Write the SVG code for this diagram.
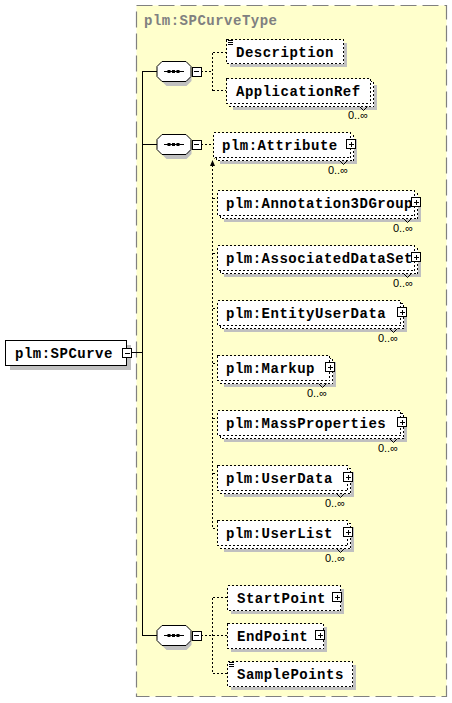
<svg xmlns="http://www.w3.org/2000/svg" xmlns:xlink="http://www.w3.org/1999/xlink" width="452" height="703" viewBox="0 0 452 703">
<style>
.t{font-family:"Liberation Mono",monospace;font-weight:bold;font-size:14px;letter-spacing:0.5px;fill:#000}
.title{font-family:"Liberation Mono",monospace;font-weight:bold;font-size:14px;letter-spacing:0.5px;fill:#808080}
.m{font-family:"Liberation Sans",sans-serif;font-size:11px;fill:#000;text-anchor:end}
.sh{fill:#c0c0c0}
.opt{fill:#fff;stroke:#000;stroke-width:1;stroke-dasharray:2 2;shape-rendering:crispEdges}
.req{fill:#fff;stroke:#000;stroke-width:1;shape-rendering:crispEdges}
.ln{fill:none;stroke:#000;stroke-width:1;shape-rendering:crispEdges}
.dl{fill:none;stroke:#000;stroke-width:1;stroke-dasharray:2 2;shape-rendering:crispEdges}
.v{fill:none;stroke:#000;stroke-width:1}
</style>
<defs>
<g id="plus"><rect x="0.5" y="0.5" width="9" height="9" class="req"/><path d="M2.5 5H7.5M5 2.5V7.5" class="ln"/></g>
<g id="minus"><rect x="0.5" y="0.5" width="9" height="9" class="req"/><path d="M2.5 5H7.5" class="ln"/></g>
<g id="doc"><path d="M0 0.5H5M0 2.5H5M0 4.5H5" class="ln"/></g>
<g id="seq">
<path d="M10 -6H30L35 -1V9L30 14H10L5 9V-1Z" class="sh"/>
<path d="M5.5 -10.5H29.5L34.5 -5.5V4.5L29.5 9.5H5.5L0.5 4.5V-5.5Z" fill="#fff" stroke="#000"/>
<path d="M7 -0.5H27" class="ln"/>
<rect x="11" y="-2" width="3" height="3"/><rect x="15.5" y="-2" width="3" height="3"/><rect x="20" y="-2" width="3" height="3"/>
</g>
</defs>

<g id="type-box">
<rect x="136.5" y="5.5" width="310" height="691" fill="#ffffcc" stroke="#808080" stroke-width="1.2" stroke-dasharray="16 6"/>
<text class="title" x="144" y="25">plm:SPCurveType</text>
</g>

<g id="connectors">
<path d="M131 352.5H143" class="ln"/>
<path d="M142.5 71V636" class="ln"/>
<path d="M142.5 71.5H157M142.5 144.5H157M142.5 635.5H157" class="ln"/>
<path d="M201 71.5H212.5M212.5 52.5V90.5M212.5 52.5H226M212.5 90.5H226" class="dl"/>
<path d="M201 144.5H213" class="dl"/>
<path d="M212.5 165V528.5H217M212.5 198.5H217M212.5 253.5H217M212.5 308.5H217M212.5 363.5H217M212.5 418.5H217M212.5 473.5H217" class="dl"/>
<path d="M212.5 160L210 166H215Z" fill="#000"/>
<path d="M214.5 158.5L218.5 154.5" class="v"/>
<path d="M219.5 153.5L215.5 154.5L218.5 157.5Z" fill="#000"/>
<path d="M201 635.5H212.5M212.5 597.5V673.5M212.5 597.5H227M212.5 635.5H227M212.5 673.5H227" class="dl"/>
</g>

<g id="n-spcurve">
<rect x="10" y="345" width="121" height="25" class="sh"/>
<rect x="5.5" y="340.5" width="121" height="25" class="req"/>
<text class="t" x="15" y="357.5">plm:SPCurve</text>
<use xlink:href="#minus" x="122" y="348"/>
</g>

<g id="seq1"><use xlink:href="#seq" x="156.5" y="72"/><use xlink:href="#minus" x="191.5" y="66.5"/></g>
<g id="seq2"><use xlink:href="#seq" x="156.5" y="145"/><use xlink:href="#minus" x="191.5" y="139.5"/></g>
<g id="seq3"><use xlink:href="#seq" x="156.5" y="636"/><use xlink:href="#minus" x="191.5" y="630.5"/></g>

<g id="n-description">
<rect x="230" y="43" width="117" height="24" class="sh"/>
<rect x="226.5" y="39.5" width="117" height="24" class="opt"/>
<use xlink:href="#doc" x="228" y="40"/>
<text class="t" x="236" y="56.5">Description</text>
</g>

<g id="n-applicationref">
<rect x="233" y="85" width="144" height="25" class="sh"/>
<rect x="229.5" y="81.5" width="144" height="25" class="opt"/>
<rect x="226.5" y="78.5" width="144" height="25" class="opt"/>
<text class="t" x="236" y="95.5">ApplicationRef</text>
<path d="M359.5 106.5L363.5 110.5L367.5 106.5" class="v"/>
<text class="m" x="368" y="119">0..∞</text>
</g>

<g id="n-attribute">
<rect x="220" y="139" width="137" height="25" class="sh"/>
<rect x="216.5" y="135.5" width="137" height="25" class="opt"/>
<rect x="213.5" y="132.5" width="137" height="25" class="opt"/>
<text class="t" x="222" y="149.5">plm:Attribute</text>
<use xlink:href="#plus" x="346" y="139"/>
<path d="M339.5 160.5L343.5 164.5L347.5 160.5" class="v"/>
<text class="m" x="348" y="174">0..∞</text>
</g>

<g id="n-annotation3dgroup">
<rect x="224" y="197" width="197" height="25" class="sh"/>
<rect x="220.5" y="193.5" width="197" height="25" class="opt"/>
<rect x="217.5" y="190.5" width="197" height="25" class="opt"/>
<text class="t" x="226" y="207.5">plm:Annotation3DGroup</text>
<use xlink:href="#plus" x="411" y="197"/>
<path d="M403.5 218.5L407.5 222.5L411.5 218.5" class="v"/>
<text class="m" x="413" y="232">0..∞</text>
</g>

<g id="n-associateddataset">
<rect x="224" y="252" width="197" height="25" class="sh"/>
<rect x="220.5" y="248.5" width="197" height="25" class="opt"/>
<rect x="217.5" y="245.5" width="197" height="25" class="opt"/>
<text class="t" x="226" y="262.5">plm:AssociatedDataSet</text>
<use xlink:href="#plus" x="411" y="252"/>
<path d="M403.5 273.5L407.5 277.5L411.5 273.5" class="v"/>
<text class="m" x="413" y="287">0..∞</text>
</g>

<g id="n-entityuserdata">
<rect x="224" y="307" width="183" height="25" class="sh"/>
<rect x="220.5" y="303.5" width="183" height="25" class="opt"/>
<rect x="217.5" y="300.5" width="183" height="25" class="opt"/>
<text class="t" x="226" y="317.5">plm:EntityUserData</text>
<use xlink:href="#plus" x="397" y="307"/>
<path d="M389.5 328.5L393.5 332.5L397.5 328.5" class="v"/>
<text class="m" x="398" y="342">0..∞</text>
</g>

<g id="n-markup">
<rect x="224" y="362" width="112" height="25" class="sh"/>
<rect x="220.5" y="358.5" width="112" height="25" class="opt"/>
<rect x="217.5" y="355.5" width="112" height="25" class="opt"/>
<text class="t" x="226" y="372.5">plm:Markup</text>
<use xlink:href="#plus" x="325" y="362"/>
<path d="M318.5 383.5L322.5 387.5L326.5 383.5" class="v"/>
<text class="m" x="327" y="397">0..∞</text>
</g>

<g id="n-massproperties">
<rect x="224" y="417" width="183" height="25" class="sh"/>
<rect x="220.5" y="413.5" width="183" height="25" class="opt"/>
<rect x="217.5" y="410.5" width="183" height="25" class="opt"/>
<text class="t" x="226" y="427.5">plm:MassProperties</text>
<use xlink:href="#plus" x="397" y="417"/>
<path d="M389.5 438.5L393.5 442.5L397.5 438.5" class="v"/>
<text class="m" x="398" y="452">0..∞</text>
</g>

<g id="n-userdata">
<rect x="224" y="472" width="130" height="25" class="sh"/>
<rect x="220.5" y="468.5" width="130" height="25" class="opt"/>
<rect x="217.5" y="465.5" width="130" height="25" class="opt"/>
<text class="t" x="226" y="482.5">plm:UserData</text>
<use xlink:href="#plus" x="343" y="472"/>
<path d="M336.5 493.5L340.5 497.5L344.5 493.5" class="v"/>
<text class="m" x="345" y="507">0..∞</text>
</g>

<g id="n-userlist">
<rect x="224" y="527" width="130" height="25" class="sh"/>
<rect x="220.5" y="523.5" width="130" height="25" class="opt"/>
<rect x="217.5" y="520.5" width="130" height="25" class="opt"/>
<text class="t" x="226" y="537.5">plm:UserList</text>
<use xlink:href="#plus" x="343" y="527"/>
<path d="M336.5 548.5L340.5 552.5L344.5 548.5" class="v"/>
<text class="m" x="345" y="562">0..∞</text>
</g>

<g id="n-startpoint">
<rect x="231" y="589" width="113" height="25" class="sh"/>
<rect x="227.5" y="585.5" width="113" height="25" class="opt"/>
<text class="t" x="237" y="602.5">StartPoint</text>
<use xlink:href="#plus" x="332" y="592"/>
</g>

<g id="n-endpoint">
<rect x="231" y="627" width="96" height="25" class="sh"/>
<rect x="227.5" y="623.5" width="96" height="25" class="opt"/>
<text class="t" x="237" y="640.5">EndPoint</text>
<use xlink:href="#plus" x="315" y="630"/>
</g>

<g id="n-samplepoints">
<rect x="231" y="665" width="125" height="25" class="sh"/>
<rect x="227.5" y="661.5" width="125" height="25" class="opt"/>
<use xlink:href="#doc" x="229" y="662"/>
<text class="t" x="237" y="678.5">SamplePoints</text>
</g>
</svg>
